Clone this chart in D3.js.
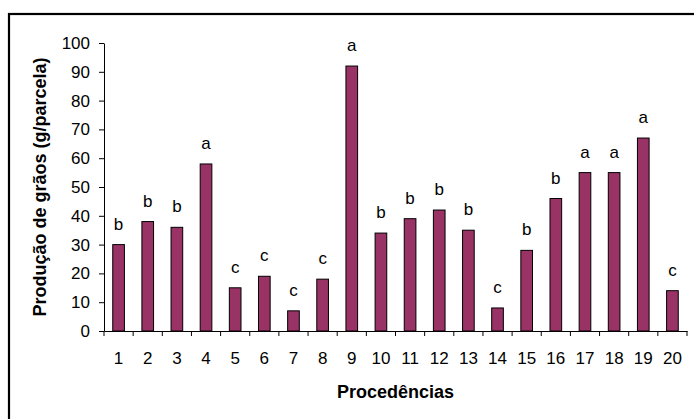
<!DOCTYPE html>
<html>
<head>
<meta charset="utf-8">
<script src="https://cdn.jsdelivr.net/npm/d3@7"></script>
<style>
  html, body { margin: 0; padding: 0; background: #fff; }
  svg { display: block; font-family: Arial, "Liberation Sans", sans-serif; }
</style>
</head>
<body>
<svg id="chart" width="694" height="419"></svg>
<script>
const categories = ["1","2","3","4","5","6","7","8","9","10","11","12","13","14","15","16","17","18","19","20"];
const values = [30, 38, 36, 58, 15, 19, 7, 18, 92, 34, 39, 42, 35, 8, 28, 46, 55, 55, 67, 14];
const letters = ["b","b","b","a","c","c","c","c","a","b","b","b","b","c","b","b","a","a","a","c"];
const yTicks = [0, 10, 20, 30, 40, 50, 60, 70, 80, 90, 100];
const xTitle = "Procedências";
const yTitle = "Produção de grãos (g/parcela)";

const svg = d3.select("#chart");
const plotLeft = 104, plotRight = 687, plotTop = 43, plotBottom = 331;
const fontFam = "Arial, 'Liberation Sans', sans-serif";
const tickFont = 17, titleFont = 18;

// outer border
svg.append("rect")
  .attr("x", 9).attr("y", 14).attr("width", 700).attr("height", 420)
  .attr("fill", "none").attr("stroke", "#000").attr("stroke-width", 2.2);

const x = d3.scaleBand().domain(categories).range([plotLeft, plotRight]).paddingInner(0).paddingOuter(0);
const y = d3.scaleLinear().domain([0, 100]).range([plotBottom, plotTop]);
const bw = x.step() / 2.5;

// bars
svg.append("g").selectAll("rect").data(values).enter().append("rect")
  .attr("x", (d, i) => x(categories[i]) + x.bandwidth() / 2 - bw / 2)
  .attr("y", d => y(d))
  .attr("width", bw)
  .attr("height", d => y(0) - y(d))
  .attr("fill", "#993366")
  .attr("stroke", "#000")
  .attr("stroke-width", 1);

// letters
svg.append("g").selectAll("text").data(values).enter().append("text")
  .attr("x", (d, i) => x(categories[i]) + x.bandwidth() / 2)
  .attr("y", d => y(d) - 15)
  .attr("text-anchor", "middle")
  .attr("font-size", tickFont)
  .attr("fill", "#000")
  .text((d, i) => letters[i]);

// y axis
const yAxis = d3.axisLeft(y).tickValues(yTicks).tickSize(5).tickSizeOuter(0).tickPadding(9);
const gy = svg.append("g").attr("transform", `translate(${plotLeft},0)`).call(yAxis);
gy.selectAll("text").attr("font-size", tickFont).attr("fill", "#000").attr("font-family", fontFam);
gy.selectAll("line,path").attr("stroke", "#000");

// x axis (labels)
const xAxis = d3.axisBottom(x).tickSize(0).tickSizeOuter(0).tickPadding(21);
const gx = svg.append("g").attr("transform", `translate(0,${plotBottom})`).call(xAxis);
gx.selectAll("text").attr("font-size", tickFont).attr("fill", "#000").attr("font-family", fontFam);
gx.select("path").attr("stroke", "#000");

// x boundary ticks
const bounds = categories.map(c => x(c)).concat([x.range()[1]]);
svg.append("g").selectAll("line").data(bounds).enter().append("line")
  .attr("x1", d => d).attr("x2", d => d)
  .attr("y1", plotBottom).attr("y2", plotBottom + 5)
  .attr("stroke", "#000");

// titles
svg.append("text")
  .attr("x", (plotLeft + plotRight) / 2).attr("y", 398)
  .attr("text-anchor", "middle")
  .attr("font-size", titleFont).attr("font-weight", "bold")
  .text(xTitle);

svg.append("text")
  .attr("transform", `translate(46,${(plotTop + plotBottom) / 2}) rotate(-90)`)
  .attr("text-anchor", "middle")
  .attr("font-size", titleFont).attr("font-weight", "bold")
  .text(yTitle);
</script>
</body>
</html>
